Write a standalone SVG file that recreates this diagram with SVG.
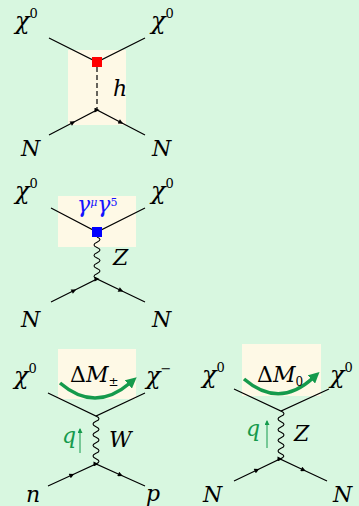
<svg xmlns="http://www.w3.org/2000/svg" width="359" height="506" viewBox="0 0 359 506">
<style>
.bg{fill:#d8f7e0}
.box{fill:#fef9e6}
.f{fill:none;stroke:#000;stroke-width:1.2}
.fa{fill:none;stroke:#000;stroke-width:1.2;marker-mid:url(#fm)}
.ph{fill:none;stroke:#000;stroke-width:1.1}
.m{font-family:"DejaVu Serif","Liberation Serif",serif;font-style:italic;font-size:22px;fill:#000}
.c{font-size:24px}
.up{font-style:normal}
.sup{font-size:13px;font-style:normal}
.g{fill:#159a4c}
.b{fill:#1414ff}
.arc{fill:none;stroke:#159a4c;stroke-width:3.5;marker-end:url(#ah)}
.qa{fill:none;stroke:#159a4c;stroke-width:1;marker-end:url(#qh)}
</style>
<defs>
<marker id="fm" viewBox="0 0 10 10" refX="5" refY="5" markerWidth="7" markerHeight="5" markerUnits="userSpaceOnUse" orient="auto"><path d="M0,0 L10,5 L0,10 z" fill="#000"/></marker>
<marker id="ah" viewBox="0 0 10 10" refX="2" refY="5" markerWidth="11" markerHeight="11" markerUnits="userSpaceOnUse" orient="auto"><path d="M0,0 L10,5 L0,10 z" fill="#159a4c"/></marker>
<marker id="qh" viewBox="0 0 10 10" refX="8" refY="5" markerWidth="6" markerHeight="5" markerUnits="userSpaceOnUse" orient="auto"><path d="M0,0 L10,5 L0,10 z" fill="#159a4c"/></marker>
</defs>
<rect class="bg" x="0" y="0" width="359" height="506"/>

<g id="diagram-higgs">
<rect class="box" x="68" y="50" width="58" height="75"/>
<g id="connectors-higgs">
<path class="f" d="M49,38 L97,62 L145,38"/>
<path class="fa" d="M49,135 L73,122.5 L97,110 L121,122.5 L145,135"/>
<path class="f" d="M97,67 L97,110" stroke-dasharray="5,3"/>
</g>
<g id="vertex-higgs"><rect x="92" y="57" width="10" height="10" fill="#ff0000"/></g>
<g id="labels-higgs">
<text class="m c" x="15" y="29">χ<tspan class="sup" dy="-11">0</tspan></text>
<text class="m c" x="151" y="29">χ<tspan class="sup" dy="-11">0</tspan></text>
<text class="m" x="113" y="96">h</text>
<text class="m" x="21" y="156">N</text>
<text class="m" x="152" y="156">N</text>
</g>
</g>

<g id="diagram-z-axial">
<rect class="box" x="58" y="196" width="78" height="51"/>
<g id="connectors-z-axial">
<path class="f" d="M51,208 L97,232 L145,208"/>
<path class="fa" d="M51,302 L74,290.5 L97,279 L121,290.5 L145,302"/>
<path class="ph" d="M97,237 q6,2.6 0,5.25 t0,5.25 t0,5.25 t0,5.25 t0,5.25 t0,5.25 t0,5.25 t0,5.25"/>
</g>
<g id="vertex-z-axial"><rect x="92" y="227" width="10" height="10" fill="#0000ff"/></g>
<g id="labels-z-axial">
<text class="m c" x="15" y="199">χ<tspan class="sup" dy="-11">0</tspan></text>
<text class="m c" x="151" y="199">χ<tspan class="sup" dy="-11">0</tspan></text>
<text class="m b" x="77" y="212" font-size="17">γ<tspan font-size="11" dy="-6">μ</tspan><tspan dy="6">γ</tspan><tspan font-size="11" font-style="normal" dy="-6">5</tspan></text>
<text class="m" x="113" y="265">Z</text>
<text class="m" x="21" y="327">N</text>
<text class="m" x="152" y="327">N</text>
</g>
</g>

<g id="diagram-w">
<rect class="box" x="58" y="349" width="78" height="50"/>
<g id="connectors-w">
<path class="f" d="M48,393 L96,416 L145,393"/>
<path class="fa" d="M48,486 L72,475 L96,464 L120.5,475 L145,486"/>
<path class="ph" d="M96,416 q6,2.67 0,5.33 t0,5.33 t0,5.33 t0,5.33 t0,5.33 t0,5.33 t0,5.33 t0,5.33 t0,5.33"/>
<path class="arc" d="M60,383 Q95,413 130,383"/>
<path class="qa" d="M80,453 L80,429"/>
</g>
<g id="labels-w">
<text class="m c" x="14" y="384">χ<tspan class="sup" dy="-11">0</tspan></text>
<text class="m c" x="146" y="384">χ<tspan class="sup" dy="-11">−</tspan></text>
<text class="m" x="70" y="382" font-size="18"><tspan class="up">Δ</tspan>M<tspan font-size="12" font-style="normal" dy="4">±</tspan></text>
<text class="m g" x="62" y="443">q</text>
<text class="m" x="109" y="447">W</text>
<text class="m" x="26" y="502">n</text>
<text class="m" x="146" y="501">p</text>
</g>
</g>

<g id="diagram-z-mass">
<rect class="box" x="242" y="344" width="79" height="52"/>
<g id="connectors-z-mass">
<path class="f" d="M234,389 L281,411 L329,389"/>
<path class="fa" d="M234,481 L257,470 L280,459 L303.5,470 L327,481"/>
<path class="ph" d="M281,411 q6,2.67 0,5.33 t0,5.33 t0,5.33 t0,5.33 t0,5.33 t0,5.33 t0,5.33 t0,5.33 t-1,5.33"/>
<path class="arc" d="M244,379 Q279,409 313,378"/>
<path class="qa" d="M267,448 L267,421"/>
</g>
<g id="labels-z-mass">
<text class="m c" x="202" y="383">χ<tspan class="sup" dy="-11">0</tspan></text>
<text class="m c" x="330" y="383">χ<tspan class="sup" dy="-11">0</tspan></text>
<text class="m" x="257" y="382" font-size="18"><tspan class="up">Δ</tspan>M<tspan font-size="12" font-style="normal" dy="4">0</tspan></text>
<text class="m g" x="246" y="436">q</text>
<text class="m" x="294" y="441">Z</text>
<text class="m" x="203" y="502">N</text>
<text class="m" x="333" y="502">N</text>
</g>
</g>
</svg>
